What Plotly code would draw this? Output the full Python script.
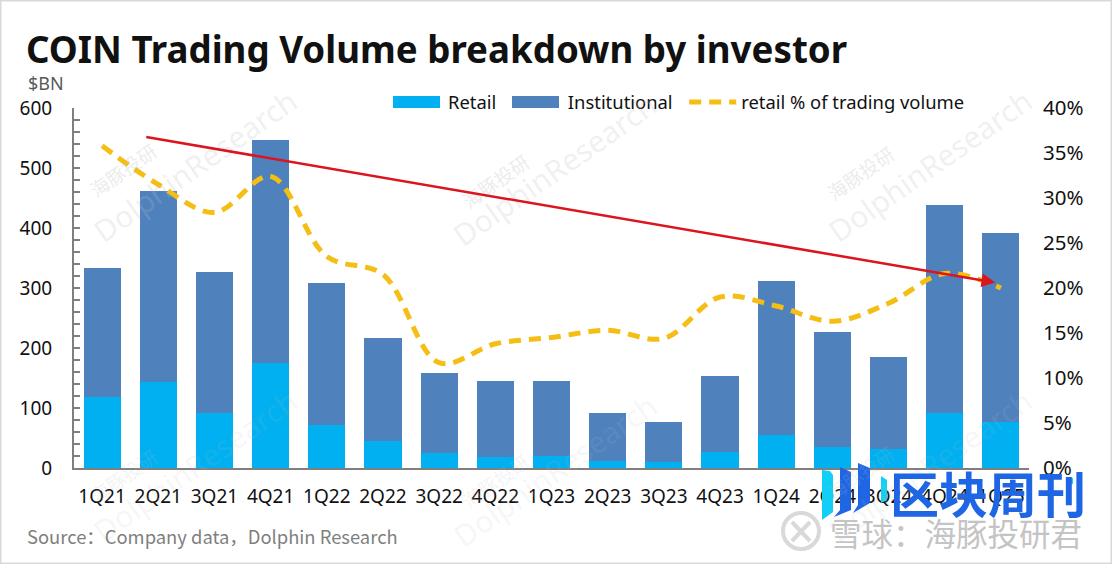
import plotly.graph_objects as go

quarters = ["1Q21","2Q21","3Q21","4Q21","1Q22","2Q22","3Q22","4Q22","1Q23","2Q23","3Q23","4Q23","1Q24","2Q24","3Q24","4Q24","1Q25"]
retail = [118,143,92,175,72,45,25,18,20,12,10,27,55,35,32,92,77]
institutional = [216,319,234,372,237,171,134,127,125,80,66,127,256,191,153,347,315]
retail_pct = [35.8,31.5,28.4,32.4,23.5,21.5,11.7,13.8,14.5,15.3,14.4,19,18,16.3,18.3,21.6,20]
trend_x = [0.76,15.9]
trend_y = [36.8,20.6]
W,H = 1112,564
def px(x): return x/W
def py(y): return 1-y/H
def poly(points,color):
    d = "M"+" L".join(f"{px(x):.5f},{py(y):.5f}" for x,y in points)+" Z"
    return dict(type="path",xref="paper",yref="paper",path=d,fillcolor=color,line_width=0)

fig = go.Figure()
fig.add_bar(x=quarters,y=retail,name="Retail\u00a0\u00a0",marker=dict(color="#00B0F0",line_width=0),yaxis="y")
fig.add_bar(x=quarters,y=institutional,name="Institutional\u00a0\u200a",marker=dict(color="#4F81BD",line_width=0),yaxis="y")
fig.add_scatter(x=quarters,y=retail_pct,name="retail % of trading volume",yaxis="y2",mode="lines",
    line=dict(color="#F5BE14",width=5,dash="12px,8px",shape="spline",smoothing=1))

notes = []
for wx,wy,alpha in [(195,165,0.22),(555,170,0.22),(930,165,0.22),(195,465,0.13),(555,470,0.13),(930,465,0.13)]:
    notes.append(dict(text="DolphinResearch",x=px(wx),y=py(wy),xref="paper",yref="paper",xanchor="center",yanchor="middle",
                      showarrow=False,textangle=-35,font=dict(size=30,color=f"rgba(190,190,190,{alpha})")))
for wx,wy,alpha in [(123,170,0.3),(495,180,0.3),(860,172,0.3),(123,475,0.18),(495,480,0.18),(860,472,0.18)]:
    notes.append(dict(text="海豚投研",x=px(wx),y=py(wy),xref="paper",yref="paper",xanchor="center",yanchor="middle",
                      showarrow=False,textangle=-35,font=dict(size=19,color=f"rgba(190,190,190,{alpha})",family="Noto Sans CJK SC")))
notes += [
    dict(x=trend_x[1],y=trend_y[1],ax=trend_x[0],ay=trend_y[0],xref="x",yref="y2",axref="x",ayref="y2",text="",
         showarrow=True,arrowcolor="#DC141E",arrowwidth=2.5,arrowhead=2,arrowsize=1.1),
    dict(text="$BN",x=px(26),y=py(83),xref="paper",yref="paper",xanchor="left",yanchor="middle",showarrow=False,font=dict(size=18,color="#595959")),
    dict(text="Source：Company data，Dolphin Research",x=px(25),y=py(536),xref="paper",yref="paper",xanchor="left",yanchor="middle",showarrow=False,
         font=dict(size=18.4,color="#7F7F7F",family="Noto Sans CJK SC, Noto Sans")),
    dict(text="<b>区块周刊</b>",x=px(888),y=py(491),xref="paper",yref="paper",xanchor="left",yanchor="middle",showarrow=False,
         font=dict(size=49,color="#1F66E5",family="Noto Sans CJK SC")),
    dict(text="雪球：海豚投研君",x=px(828),y=py(532),xref="paper",yref="paper",xanchor="left",yanchor="middle",showarrow=False,
         font=dict(size=31.5,color="#C4C4C4",family="Noto Sans CJK SC")),
]

fig.update_layout(
    width=W,height=H,margin=dict(l=0,r=0,t=0,b=0,autoexpand=False),barmode="stack",bargap=0.34,
    paper_bgcolor="white",plot_bgcolor="rgba(0,0,0,0)",showlegend=True,
    font=dict(family="Noto Sans, Open Sans, sans-serif",color="#111111",size=19),
    title=dict(text="<b>COIN Trading Volume breakdown by investor</b>",x=px(26),xanchor="left",y=py(50),yanchor="middle",font=dict(size=36.7,color="#111111")),
    legend=dict(orientation="h",x=px(391),y=py(102),xanchor="left",yanchor="middle",traceorder="normal",font=dict(size=18.4),bgcolor="rgba(0,0,0,0)",itemwidth=47),
    xaxis=dict(domain=[px(74),px(1029)],showline=True,linecolor="#7F7F7F",linewidth=2,ticks="",tickfont=dict(size=19),ticklabelstandoff=10,type="category",range=[-0.5,16.5]),
    yaxis=dict(domain=[py(468),py(108)],range=[0,600],dtick=100,showgrid=False,showline=True,linecolor="#7F7F7F",linewidth=2,
               ticks="inside",ticklen=6,tickwidth=2,tickcolor="#7F7F7F",minor=dict(dtick=20,ticks="inside",ticklen=6,tickwidth=2,tickcolor="#7F7F7F"),
               tickfont=dict(size=19),ticklabelstandoff=16),
    yaxis2=dict(overlaying="y",side="right",anchor="free",position=px(1042),range=[0,40],dtick=5,ticksuffix="%",showgrid=False,showline=False,tickfont=dict(size=20.5)),
    annotations=notes,
    shapes=[
        dict(type="rect",xref="paper",yref="paper",x0=0,y0=0,x1=1,y1=1,line=dict(color="#D9D9D9",width=3)),
        dict(type="rect",xref="paper",yref="paper",x0=px(393),x1=px(440),y0=py(108),y1=py(96),fillcolor="#00B0F0",line_width=0),
        dict(type="rect",xref="paper",yref="paper",x0=px(512),x1=px(559),y0=py(108),y1=py(96),fillcolor="#4F81BD",line_width=0),
        poly([(822,470),(830,471),(833,475),(833,512),(822,520)],"#12CFF5"),
        poly([(840,467),(851,472),(851,510),(834,517),(840,510)],"#1F66E5"),
        poly([(858,463),(870,468),(870,503),(853,513),(858,505)],"#1F66E5"),
        poly([(881,476),(887,480),(887,500),(881,503)],"#12CFF5"),
        dict(type="rect",xref="paper",yref="paper",x0=px(1068),x1=px(1073),y0=py(484),y1=py(478),fillcolor="#12CFF5",line_width=0),
        dict(type="circle",xref="paper",yref="paper",x0=px(783),x1=px(819),y0=py(549),y1=py(513),line=dict(color="#D9D9D9",width=4)),
        dict(type="line",xref="paper",yref="paper",x0=px(792),x1=px(810),y0=py(541),y1=py(522),line=dict(color="#D9D9D9",width=4)),
        dict(type="line",xref="paper",yref="paper",x0=px(792),x1=px(810),y0=py(522),y1=py(541),line=dict(color="#D9D9D9",width=4)),
    ],
)
fig.write_html("out.html",config=dict(displayModeBar=False),post_script="document.body.style.margin='0';document.documentElement.style.overflow='hidden';")
